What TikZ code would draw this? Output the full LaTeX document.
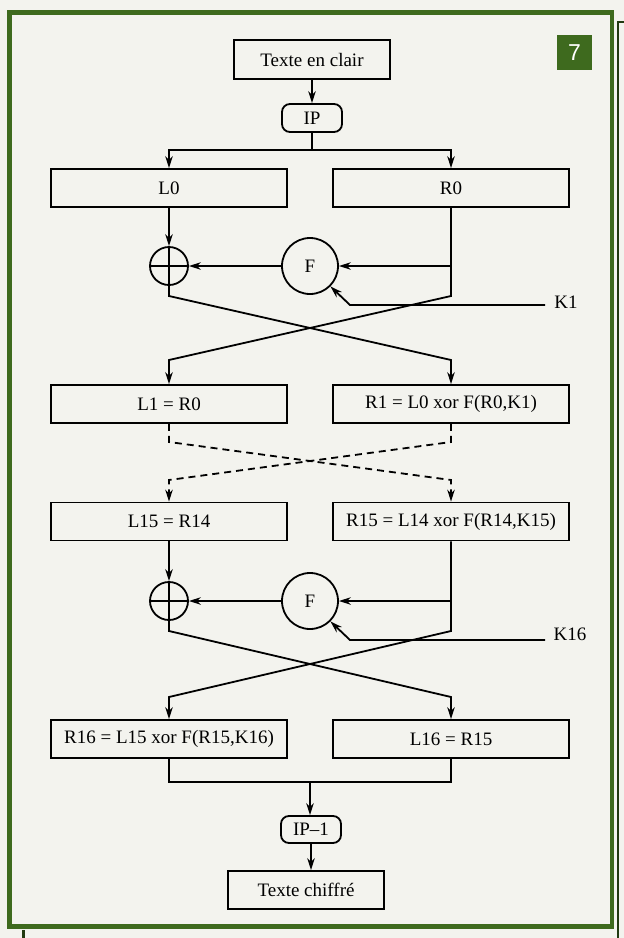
\documentclass[tikz,border=0pt]{standalone}
\usepackage{fontspec}
\setmainfont{Liberation Serif}
\newfontfamily\badgefont{Liberation Sans}
\usepackage{xcolor}
\usepackage{tikz}
\usetikzlibrary{arrows.meta}
\usetikzlibrary{positioning}
\definecolor{vert}{RGB}{62,106,30}
\definecolor{papier}{RGB}{243,243,238}

\begin{document}
\begin{tikzpicture}[
      >={Stealth[length=12pt,width=7.5pt]},
      x=1pt, y=-1pt,
      line width=1.8pt,
      txt/.style={font=\fontsize{19}{21}\selectfont},
      boite/.style={draw, txt, minimum width=236pt, minimum height=38pt, inner sep=0pt},
      perm/.style={draw, txt, rounded corners=8pt, minimum width=60pt, minimum height=27pt, inner sep=0pt},
      rond/.style={draw, circle, inner sep=0pt},
      pointille/.style={dash pattern=on 7pt off 5pt}
    ]
    % Fond et cadre
    \useasboundingbox (0,0) rectangle (624,938);
    \fill[papier] (0,0) rectangle (624,938);
    \draw[vert, line width=4.5pt] (9.5,12.5) rectangle (612,926.5);
    \draw[vert!55!black, line width=2.5pt] (624,22) -| (618,938);
    \draw[vert!55!black, line width=2.5pt] (23.5,930) -- (23.5,938);
    \node[fill=vert, text=white, font=\badgefont\fontsize{23}{24}\selectfont, minimum size=35pt, inner sep=0pt] (num) at (574.5,52.5) {7};

    % Entree et permutation initiale
    \node[boite, minimum width=156pt, minimum height=39pt] (clair) at (312,59.5) {Texte en clair};
    \node[perm, minimum height=28pt] (ip) at (312,118) {IP};
    \draw[->] (clair) -- (ip);

    \node[boite] (L0) at (169,188) {L0};
    \node[boite] (R0) at (451,188) {R0};
    \coordinate (sep) at (312,150);
    \draw (ip.south) -- (sep);
    \draw[->] (sep) -| (L0.north);
    \draw[->] (sep) -| (R0.north);

    % Premier tour
    \node[rond, minimum size=38pt] (xA) at (169,266) {};
    \node[rond, txt, minimum size=56pt] (fA) at (310,266) {F};
    \draw[->] (L0.south) -- (xA.north);
    \draw[->] (fA.west) -- (xA.east);
    \draw[->] (R0.south |- fA) -- (fA.east);
    \node[txt] (kA) at (566,302) {K1};
    \coordinate (kA0) at (545,305);
    \coordinate (kA1) at (350,305);
    \draw[->] (kA0) -- (kA1) -- (fA.-45);

    \node[boite] (L1) at (169,404) {L1 = R0};
    \node[boite] (R1) at (451,404) {R1 = L0 xor F(R0,K1)};
    \coordinate (gA) at (169,296);
    \coordinate (dA) at (451,296);
    \coordinate (gB) at (169,360);
    \coordinate (dB) at (451,360);
    \draw[->] (xA.south) -- (gA) -- (dB) -- (R1.north);
    \draw[->] (R0.south) -- (dA) -- (gB) -- (L1.north);

    % Tours intermediaires
    \node[boite] (L15) at (169,521.5) {L15 = R14};
    \node[boite] (R15) at (451,521.5) {R15 = L14 xor F(R14,K15)};
    \coordinate (gC) at (169,442);
    \coordinate (dC) at (451,442);
    \coordinate (gD) at (169,480);
    \coordinate (dD) at (451,480);
    \draw[pointille, ->] (L1.south) -- (gC) -- (dD) -- (R15.north);
    \draw[pointille, ->] (R1.south) -- (dC) -- (gD) -- (L15.north);

    % Dernier tour
    \node[rond, minimum size=38pt] (xB) at (169,601) {};
    \node[rond, txt, minimum size=56pt] (fB) at (310,601) {F};
    \draw[->] (L15.south) -- (xB.north);
    \draw[->] (fB.west) -- (xB.east);
    \draw[->] (R15.south |- fB) -- (fB.east);
    \node[txt] (kB) at (570,634) {K16};
    \coordinate (kB0) at (545,640);
    \coordinate (kB1) at (350,640);
    \draw[->] (kB0) -- (kB1) -- (fB.-45);

    \foreach \n in {xA,xB}
      \draw (\n.north) -- (\n.south) (\n.west) -- (\n.east);

    \node[boite] (R16) at (169,739) {R16 = L15 xor F(R15,K16)};
    \node[boite] (L16) at (451,739) {L16 = R15};
    \coordinate (gE) at (169,631);
    \coordinate (dE) at (451,631);
    \coordinate (gF) at (169,697);
    \coordinate (dF) at (451,697);
    \draw[->] (xB.south) -- (gE) -- (dF) -- (L16.north);
    \draw[->] (R15.south) -- (dE) -- (gF) -- (R16.north);

    % Sortie
    \coordinate (fus) at (310,782);
    \draw (R16.south) |- (fus) -| (L16.south);
    \node[perm] (ipinv) at (311,829.5) {IP--1};
    \node[boite, minimum width=156pt] (chiffre) at (306,890) {Texte chiffré};
    \draw[->] (fus) -- (fus |- ipinv.north);
    \draw[->] (ipinv.south) -- (ipinv.south |- chiffre.north);
  \end{tikzpicture}
\end{document}
